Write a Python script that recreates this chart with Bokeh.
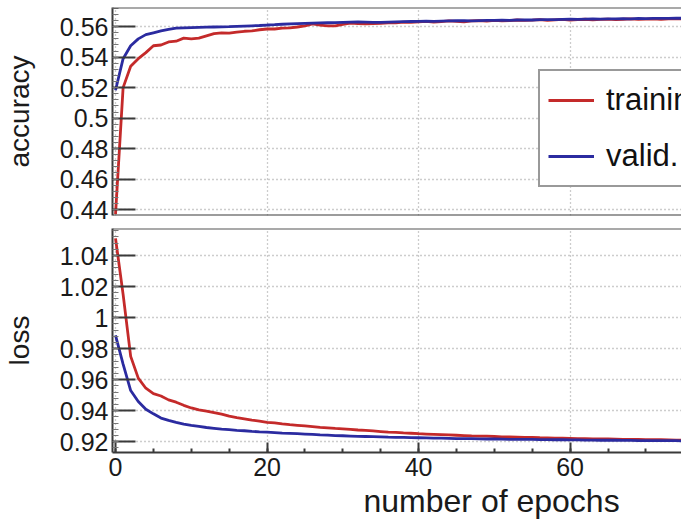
import numpy as np
from bokeh.plotting import figure
from bokeh.layouts import column
from bokeh.models import FixedTicker, Span, Legend, LegendItem, Range1d, Title
from bokeh.embed import file_html
from bokeh.resources import INLINE

# ---------------- data ----------------
epochs = list(range(76))

train_acc = [0.437, 0.520, 0.534, 0.539, 0.543, 0.5475, 0.548, 0.550, 0.5505, 0.5525,
             0.552, 0.5525, 0.554, 0.5555, 0.556, 0.5558, 0.5565, 0.557, 0.5572, 0.558,
             0.5585, 0.5585, 0.559, 0.5592, 0.5598, 0.5605, 0.5618, 0.561, 0.5605, 0.5605,
             0.5615, 0.5624, 0.562, 0.5618, 0.562, 0.5622, 0.5626, 0.5625, 0.563, 0.5628,
             0.5632, 0.5635, 0.563, 0.5633, 0.5638, 0.5635, 0.5632, 0.5638, 0.564, 0.5637,
             0.5642, 0.5638, 0.564, 0.5644, 0.5641, 0.5643, 0.5646, 0.5642, 0.5645, 0.5648,
             0.5644, 0.5646, 0.5649, 0.5645, 0.5648, 0.565, 0.5646, 0.5649, 0.5651, 0.5648,
             0.565, 0.5652, 0.5649, 0.5651, 0.5653, 0.565]

valid_acc = [0.5183, 0.539, 0.5475, 0.552, 0.5548, 0.556, 0.5572, 0.5583, 0.559, 0.5592,
             0.5594, 0.5596, 0.5597, 0.5598, 0.5599, 0.56, 0.5602, 0.5604, 0.5606, 0.5608,
             0.5611, 0.5613, 0.5616, 0.5618, 0.562, 0.5622, 0.5624, 0.5625, 0.5626, 0.5627,
             0.5629, 0.563, 0.5631, 0.563, 0.5629, 0.5628, 0.563, 0.5632, 0.5633, 0.5634,
             0.5635, 0.5636, 0.5635, 0.5637, 0.5638, 0.5639, 0.564, 0.5638, 0.564, 0.5641,
             0.5642, 0.5643, 0.5642, 0.5644, 0.5645, 0.5644, 0.5646, 0.5647, 0.5646, 0.5648,
             0.5649, 0.5648, 0.565, 0.5651, 0.565, 0.5652, 0.5651, 0.5653, 0.5652, 0.5654,
             0.5653, 0.5655, 0.5654, 0.5655, 0.5656, 0.5655]

train_loss = [1.051, 1.015, 0.975, 0.961, 0.9545, 0.951, 0.9495, 0.947, 0.9455, 0.9435,
              0.9418, 0.9405, 0.9398, 0.9388, 0.9378, 0.9365, 0.9356, 0.9348, 0.934, 0.9333,
              0.9325, 0.9322, 0.9315, 0.931, 0.9306, 0.9302, 0.9298, 0.9293, 0.929, 0.9286,
              0.9283, 0.928, 0.9276, 0.9273, 0.927, 0.9266, 0.9262, 0.926, 0.9257, 0.9255,
              0.9252, 0.925, 0.9248, 0.9246, 0.9244, 0.9242, 0.924, 0.9238, 0.9237, 0.9236,
              0.9234, 0.9232, 0.9231, 0.923, 0.9229, 0.9228, 0.9226, 0.9225, 0.9224, 0.9223,
              0.9222, 0.9221, 0.922, 0.9219, 0.9218, 0.9218, 0.9217, 0.9216, 0.9215, 0.9215,
              0.9214, 0.9213, 0.9213, 0.9212, 0.9211, 0.9211]

valid_loss = [0.9885, 0.970, 0.953, 0.946, 0.941, 0.938, 0.9353, 0.9338, 0.9325, 0.9314,
              0.9306, 0.9299, 0.9292, 0.9287, 0.9282, 0.9278, 0.9274, 0.9271, 0.9267, 0.9264,
              0.9262, 0.9259, 0.9256, 0.9254, 0.9252, 0.925, 0.9248, 0.9245, 0.9243, 0.924,
              0.9239, 0.9237, 0.9235, 0.9234, 0.9233, 0.9232, 0.923, 0.9229, 0.9228, 0.9227,
              0.9226, 0.9225, 0.9224, 0.9223, 0.9222, 0.9221, 0.922, 0.922, 0.9219, 0.9218,
              0.9218, 0.9217, 0.9216, 0.9216, 0.9215, 0.9215, 0.9214, 0.9214, 0.9213, 0.9213,
              0.9212, 0.9212, 0.9211, 0.9211, 0.921, 0.921, 0.921, 0.9209, 0.9209, 0.9208,
              0.9208, 0.9208, 0.9207, 0.9207, 0.9207, 0.9206]

series_names = ["training", "valid."]

x_ticks = [0, 20, 40, 60]
acc_ticks = [0.44, 0.46, 0.48, 0.50, 0.52, 0.54, 0.56]
acc_tick_labels = ["0.44", "0.46", "0.48", "0.5", "0.52", "0.54", "0.56"]
loss_ticks = [0.92, 0.94, 0.96, 0.98, 1.00, 1.02, 1.04]
loss_tick_labels = ["0.92", "0.94", "0.96", "0.98", "1", "1.02", "1.04"]

y_titles = ["accuracy", "loss"]
x_title = "number of epochs"

# ---------------- style ----------------
RED = "#c42a2a"
BLUE = "#2b2ba0"
AXIS = "#3a3a3a"
GRID = "#9a9a9a"
FONT = "Liberation Sans"
W = 681
X_LO, X_HI = -0.4, 74.7
ACC_LO, ACC_HI = 0.4361, 0.5726
LOSS_LO, LOSS_HI = 0.9131, 1.0574


def make(h, ylo, yhi, top_b, bottom_b, yticks, ylabels, ytitle):
    p = figure(width=W, height=h, x_range=Range1d(X_LO, X_HI), y_range=Range1d(ylo, yhi),
               output_backend="svg", toolbar_location=None,
               min_border_left=112, min_border_right=0,
               min_border_top=top_b, min_border_bottom=bottom_b)
    p.outline_line_color = None
    p.background_fill_color = "white"
    p.border_fill_color = "white"

    for g in (p.xgrid, p.ygrid):
        g.grid_line_color = GRID
        g.grid_line_dash = "1 3"
        g.grid_line_width = 1.3

    ya = p.yaxis[0]
    ya.ticker = FixedTicker(ticks=yticks,
                            minor_ticks=list(np.round(np.arange(yticks[0] - 0.02, yticks[-1] + 0.03, 0.004), 4)))
    ya.major_label_overrides = dict(zip(yticks, ylabels))
    ya.axis_line_color = AXIS
    ya.axis_line_width = 2
    ya.major_tick_in = 23
    ya.major_tick_out = 0
    ya.major_tick_line_color = AXIS
    ya.major_tick_line_width = 2
    ya.minor_tick_in = 6
    ya.minor_tick_out = 0
    ya.minor_tick_line_color = "#777777"
    ya.major_label_standoff = 4
    ya.major_label_text_font = FONT
    ya.major_label_text_font_size = "25px"
    ya.major_label_text_color = "#1a1a1a"
    ya.axis_label = ytitle
    ya.axis_label_text_font = FONT
    ya.axis_label_text_font_size = "28px"
    ya.axis_label_text_font_style = "normal"
    ya.axis_label_text_color = "#1a1a1a"
    ya.axis_label_standoff = 22

    xa = p.xaxis[0]
    xa.ticker = FixedTicker(ticks=x_ticks, minor_ticks=list(range(0, 80, 5)))
    xa.axis_line_color = AXIS
    xa.axis_line_width = 2
    xa.major_tick_in = 10
    xa.major_tick_out = 0
    xa.major_tick_line_color = AXIS
    xa.major_tick_line_width = 2
    xa.minor_tick_in = 4
    xa.minor_tick_out = 0
    xa.minor_tick_line_color = AXIS
    xa.minor_tick_line_width = 2
    xa.major_label_text_font = FONT
    xa.major_label_text_font_size = "25px"
    xa.major_label_text_color = "#1a1a1a"
    xa.major_label_standoff = 5

    # top border of the frame
    p.add_layout(Span(location=yhi, dimension="width", line_color="#555555", line_width=2))
    return p


# ----- accuracy panel -----
top = make(227, ACC_LO, ACC_HI, 7, 12, acc_ticks, acc_tick_labels, y_titles[0])
top.xaxis[0].visible = False
top.add_layout(Span(location=ACC_LO, dimension="width", line_color=AXIS, line_width=2))

r1 = top.line(epochs, train_acc, line_color=RED, line_width=2.8)
r2 = top.line(epochs, valid_acc, line_color=BLUE, line_width=2.8)

legend = Legend(items=[LegendItem(label=series_names[0], renderers=[r1]),
                       LegendItem(label=series_names[1], renderers=[r2])],
                location=(426, 28), margin=0, padding=8, spacing=14,
                glyph_width=46, glyph_height=42, label_height=42, label_standoff=12,
                label_text_font=FONT, label_text_font_size="31px", label_text_color="#111111",
                border_line_color="#333333", border_line_width=2,
                background_fill_color="white", background_fill_alpha=1.0)
top.add_layout(legend, "center")

# ----- loss panel -----
bot = make(300, LOSS_LO, LOSS_HI, 1, 75, loss_ticks, loss_tick_labels, y_titles[1])
bot.line(epochs, train_loss, line_color=RED, line_width=2.8)
bot.line(epochs, valid_loss, line_color=BLUE, line_width=2.8)

bot.add_layout(Title(text=x_title, align="left", offset=251, standoff=4,
                     text_font=FONT, text_font_size="32px", text_font_style="normal",
                     text_color="#1a1a1a"), "below")

layout = column(top, bot, spacing=0)
open("out.html", "w").write(file_html(layout, INLINE))
